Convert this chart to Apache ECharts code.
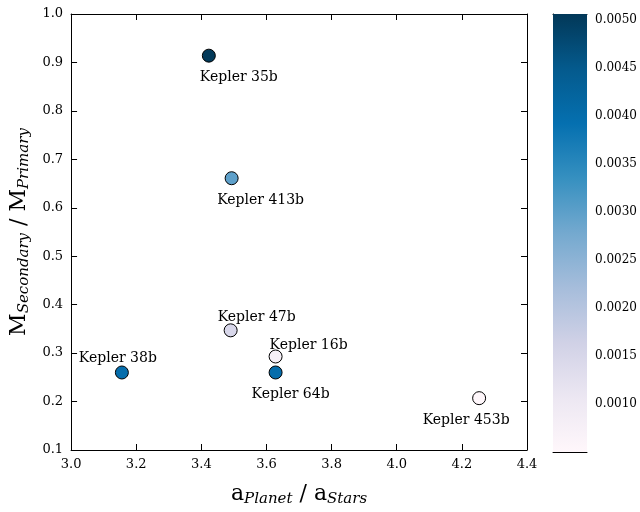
<!DOCTYPE html>
<html><head><meta charset="utf-8">
<script src="https://cdn.jsdelivr.net/npm/echarts@6/dist/echarts.min.js"></script>
<style>html,body{margin:0;background:#fff}#c{width:640px;height:512px}</style></head>
<body><div id="c"></div><script>
const names=['Kepler 35b','Kepler 413b','Kepler 47b','Kepler 16b','Kepler 64b','Kepler 38b','Kepler 453b'];
const aRatio=[3.423,3.493,3.49,3.628,3.628,3.156,4.253];
const mRatio=[0.914,0.661,0.347,0.293,0.26,0.26,0.207];
const cVal=[0.00505,0.0030,0.0015,0.0008,0.0040,0.0040,0.00054];
const labelPos=['bottom','bottom','top','top','bottom','top','bottom'];
const labelOff=[[30,0],[29,0],[26,9],[33,11],[15,0],[-4,8],[-13,0]];
const cMin=0.000535,cMax=0.00506;
const pubu=['#fff7fb','#ece7f2','#d0d1e6','#a6bddb','#74a9cf','#3690c0','#0570b0','#045a8d','#023858'];
const F='DejaVu Serif';
const chart=echarts.init(document.getElementById('c'));
const ax={axisLine:{lineStyle:{color:'#000'}},axisTick:{inside:true,length:6,lineStyle:{color:'#000'}},splitLine:{show:false},axisLabel:{color:'#000',fontFamily:F,fontSize:13}};
const grad=new echarts.graphic.LinearGradient(0,1,0,0,pubu.map((c,i)=>({offset:i/(pubu.length-1),color:c})));
chart.setOption({
 animation:false,
 grid:[{left:70,top:14,width:457,height:438},{left:553,top:14,width:44,height:438}],
 xAxis:[Object.assign({},ax,{type:'value',min:3.0,max:4.4,interval:0.2,gridIndex:0,name:'a{s|Planet} / a{s|Stars}',nameLocation:'middle',nameGap:32,
   nameTextStyle:{fontFamily:F,fontSize:22,color:'#000',rich:{s:{fontFamily:F,fontSize:15,fontStyle:'italic',padding:[10,0,0,0]}}},
   axisLabel:Object.assign({},ax.axisLabel,{formatter:v=>v.toFixed(1)})}),
  Object.assign({},ax,{type:'value',min:3.0,max:4.4,interval:0.2,gridIndex:0,position:'top',axisLabel:{show:false}}),
  {type:'category',data:['c'],gridIndex:1,axisLine:{lineStyle:{color:'#000'}},axisTick:{show:false},axisLabel:{show:false}},
  {type:'category',data:['c'],gridIndex:1,position:'top',axisLine:{lineStyle:{color:'#000'}},axisTick:{show:false},axisLabel:{show:false}}],
 yAxis:[Object.assign({},ax,{type:'value',min:0.1,max:1.0,interval:0.1,gridIndex:0,name:'M{s|Secondary} / M{s|Primary}',nameLocation:'middle',nameGap:38,
   nameTextStyle:{fontFamily:F,fontSize:22,color:'#000',rich:{s:{fontFamily:F,fontSize:15,fontStyle:'italic',padding:[10,0,0,0]}}},
   axisLabel:Object.assign({},ax.axisLabel,{formatter:v=>v.toFixed(1)})}),
  Object.assign({},ax,{type:'value',min:0.1,max:1.0,interval:0.1,gridIndex:0,position:'right',axisLabel:{show:false}}),
  Object.assign({},ax,{type:'value',min:0.0005,max:cMax,interval:0.0005,gridIndex:1,position:'right',axisTick:{inside:true,length:5,lineStyle:{color:'#000'}},
   axisLabel:Object.assign({},ax.axisLabel,{formatter:v=>v>0.0009?v.toFixed(4):'',fontSize:12})}),
  {type:'value',min:0,max:1,gridIndex:1,position:'left',axisLine:{show:true,lineStyle:{color:'#000'}},axisTick:{show:false},axisLabel:{show:false},splitLine:{show:false}}],
 visualMap:{show:false,min:cMin,max:cMax,dimension:2,seriesIndex:0,inRange:{color:pubu}},
 series:[{type:'scatter',xAxisIndex:0,yAxisIndex:0,symbolSize:13,
   itemStyle:{borderColor:'#000',borderWidth:1,opacity:1},
   data:aRatio.map((x,i)=>({value:[x,mRatio[i],cVal[i]],label:{show:true,position:labelPos[i],offset:labelOff[i],formatter:names[i],fontFamily:F,fontSize:14,color:'#000',distance:8}}))},
  {type:'bar',xAxisIndex:2,yAxisIndex:2,data:[cMax],barWidth:'100%',itemStyle:{color:grad},silent:true}]
});
</script></body></html>
